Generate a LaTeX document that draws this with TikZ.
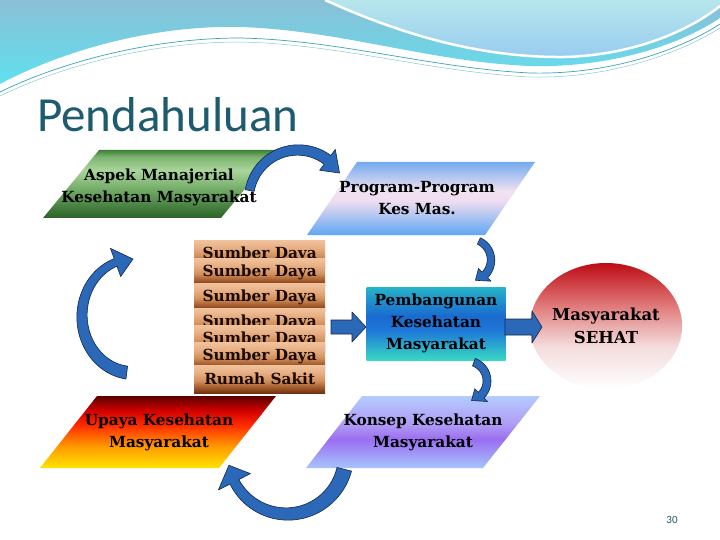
\documentclass[tikz,border=0pt]{standalone}
\usepackage{fontspec}
\setmainfont{DejaVu Serif}
\newfontfamily\titlefont{Carlito}
\usetikzlibrary{shapes.geometric}
\definecolor{titlec}{HTML}{1D5B6E}
\definecolor{hdtop}{HTML}{8BBFD6}
\definecolor{hdbot}{HTML}{5FE0EE}
\definecolor{lenstop}{HTML}{B6E6EC}
\definecolor{lensbot}{HTML}{98CCF0}
\definecolor{hdline}{HTML}{3AA5B5}
\definecolor{arrblue}{HTML}{2B68B8}
\definecolor{arrline}{HTML}{14284A}
\definecolor{sdtext}{HTML}{1A0A00}
% aspek (green)
\definecolor{ga}{HTML}{2A6228}\definecolor{gb}{HTML}{6EA862}\definecolor{gc}{HTML}{AAD59C}\definecolor{gd}{HTML}{7CB46E}\definecolor{ge}{HTML}{3E8038}
\pgfdeclareverticalshading{aspsh}{100bp}{color(0bp)=(ga); color(25bp)=(ga); color(45bp)=(gb); color(60bp)=(gc); color(70bp)=(gd); color(75bp)=(ge); color(100bp)=(ge)}
% program (blue-pink)
\definecolor{pa}{HTML}{5EA6F4}\definecolor{pb}{HTML}{EEDCF0}\definecolor{pc}{HTML}{F2E2F0}\definecolor{pd}{HTML}{74AAEE}
\pgfdeclareverticalshading{progsh}{100bp}{color(0bp)=(pa); color(25bp)=(pa); color(48bp)=(pb); color(55bp)=(pc); color(75bp)=(pd); color(100bp)=(pd)}
% sumber daya (brown)
\definecolor{sa}{HTML}{6E3010}\definecolor{sb}{HTML}{A0582A}\definecolor{sc}{HTML}{D4925E}\definecolor{sd}{HTML}{E8B086}\definecolor{se}{HTML}{F0C29C}
\pgfdeclareverticalshading{sdsh}{100bp}{color(0bp)=(sa); color(25bp)=(sa); color(35bp)=(sb); color(48bp)=(sc); color(62bp)=(sd); color(75bp)=(se); color(100bp)=(se)}
% pembangunan (teal-blue)
\definecolor{ta}{HTML}{38D8C4}\definecolor{tb}{HTML}{1E78D8}\definecolor{tc}{HTML}{1A6AD0}\definecolor{td}{HTML}{26B4C8}
\pgfdeclareverticalshading{pemsh}{100bp}{color(0bp)=(ta); color(25bp)=(ta); color(45bp)=(tb); color(55bp)=(tc); color(75bp)=(td); color(100bp)=(td)}
% upaya (red-yellow)
\definecolor{ua}{HTML}{FFE400}\definecolor{ub}{HTML}{FF9A00}\definecolor{uc}{HTML}{FF2A00}\definecolor{ud}{HTML}{D00000}\definecolor{ue}{HTML}{5A0000}
\pgfdeclareverticalshading{upsh}{100bp}{color(0bp)=(ua); color(25bp)=(ua); color(40bp)=(ub); color(55bp)=(uc); color(65bp)=(ud); color(75bp)=(ue); color(100bp)=(ue)}
% konsep (blue-purple)
\definecolor{ka}{HTML}{A6C4FC}\definecolor{kb}{HTML}{9A6EF0}\definecolor{kc}{HTML}{B09AF4}\definecolor{kd}{HTML}{B4CCFF}
\pgfdeclareverticalshading{konsh}{100bp}{color(0bp)=(ka); color(25bp)=(ka); color(45bp)=(kb); color(55bp)=(kc); color(75bp)=(kd); color(100bp)=(kd)}
% circle (red-white)
\definecolor{ca}{HTML}{FFFFFF}\definecolor{cb}{HTML}{F4DCDC}\definecolor{cc}{HTML}{E07A7A}\definecolor{cd}{HTML}{BC0C14}
\pgfdeclareverticalshading{cirsh}{100bp}{color(0bp)=(ca); color(25bp)=(ca); color(42bp)=(cb); color(58bp)=(cc); color(75bp)=(cd); color(100bp)=(cd)}
\tikzset{
  carr/.style={fill=arrblue, draw=arrline, line width=0.6pt, line join=round},
  lbl/.style={font=\bfseries\fontsize{15.3}{22}\selectfont, align=center, text=black, inner sep=0pt},
  sdbox/.style={shading=sdsh, minimum width=131pt, minimum height=28pt, inner sep=0pt,
     anchor=north west, font=\bfseries\fontsize{15.3}{16}\selectfont, text=sdtext},
}
% #1 centre, #2 rx, #3 ry, #4 start angle, #5 end angle, #6 tail width, #7 width near head, #8 head half width, #9 head angle
\newcommand{\carrow}[9]{%
  \begin{scope}[shift={(#1)}]
    \filldraw[carr]
      plot[domain=#4:#5, samples=40, variable=\t]
        (\t:{#2+(#6+(#7-#6)*(\t-(#4))/((#5)-(#4)))/2} and {#3+(#6+(#7-#6)*(\t-(#4))/((#5)-(#4)))/2})
      -- (#5:{#2+#8} and {#3+#8})
      -- ({#5+#9}:#2 and #3)
      -- (#5:{#2-#8} and {#3-#8})
      -- plot[domain=#5:#4, samples=40, variable=\t]
        (\t:{#2-(#6+(#7-#6)*(\t-(#4))/((#5)-(#4)))/2} and {#3-(#6+(#7-#6)*(\t-(#4))/((#5)-(#4)))/2})
      -- cycle;
  \end{scope}}
\begin{document}
\begin{tikzpicture}[x=1pt, y=-1pt]
\useasboundingbox (0,0) rectangle (720,540);
\fill[white] (0,0) rectangle (720,540);
% header
\shade[top color=hdtop, bottom color=hdbot]
  (0,0) -- (720,0) -- (720,18) .. controls (680,45) and (610,68) .. (530,66)
  .. controls (430,62) and (340,30) .. (240,27) .. controls (150,25) and (60,52) .. (0,84) -- cycle;
\shade[top color=lenstop, bottom color=lensbot]
  (325,0) .. controls (400,34) and (480,58) .. (565,57) .. controls (635,55) and (690,30) .. (720,6) -- (720,0) -- cycle;
\draw[white, line width=2.5pt]
  (325,0) .. controls (400,34) and (480,58) .. (565,57) .. controls (635,55) and (690,30) .. (720,6);
\draw[hdline, line width=0.7pt]
  (0,92) .. controls (70,58) and (160,38) .. (240,38) .. controls (340,40) and (430,68) .. (530,73)
  .. controls (610,75) and (680,50) .. (720,24);
\draw[hdline!60, line width=0.5pt]
  (0,96) .. controls (70,62) and (160,42) .. (240,42) .. controls (340,44) and (430,72) .. (530,77)
  .. controls (610,79) and (680,53) .. (720,28);
% title
\node[anchor=base west, inner sep=0pt, font=\titlefont\fontsize{49}{49}\selectfont, text=titlec]
  (title) at (37,132) {Pendahuluan};
% parallelograms
\path[shading=aspsh] (99,150) -- (277,150) -- (221,218) -- (43,218) -- cycle;
\path[shading=progsh] (357,162) -- (535,162) -- (485,235) -- (307,235) -- cycle;
\path[shading=upsh] (97,396) -- (276,396) -- (219,468) -- (40,468) -- cycle;
\path[shading=konsh] (362,396) -- (540,396) -- (483,468) -- (306,468) -- cycle;
% sumber daya stack
\node[sdbox] (sd1) at (194,240) {Sumber Daya};
\node[sdbox] (sd2) at (194,258) {Sumber Daya};
\node[sdbox] (sd3) at (194,283) {Sumber Daya};
\node[sdbox] (sd4) at (194,308) {Sumber Daya};
\node[sdbox] (sd5) at (194,325) {Sumber Daya};
\node[sdbox] (sd6) at (194,342) {Sumber Daya};
\node[sdbox] (rs) at (194,365) {Rumah Sakit};
% pembangunan
\node[rectangle, shading=pemsh, minimum width=139pt, minimum height=73pt, lbl] (pemb) at (436,323.5)
  {Pembangunan\\Kesehatan\\Masyarakat};
% masyarakat sehat
\node[ellipse, shading=cirsh, minimum width=143pt, minimum height=126pt, inner sep=0pt, align=center,
  font=\bfseries\fontsize{16.5}{23}\selectfont] (sehat) at (606,326) {Masyarakat\\SEHAT};
% straight block arrows
\filldraw[carr] (331,320) -- (352,320) -- (352,312) -- (366,327) -- (352,342) -- (352,334) -- (331,334) -- cycle;
\filldraw[carr] (505,319) -- (532,319) -- (532,311) -- (542,327) -- (532,343) -- (532,335) -- (505,335) -- cycle;
% curved arrows
\carrow{298,199}{49}{49}{190}{307}{9}{11}{13}{21}
\carrow{470,260}{21}{21}{-65}{45}{7}{8}{9}{30}
\carrow{467,381}{20}{20}{-70}{45}{8}{8}{9}{32}
\carrow{287,455}{59}{59}{14}{153}{15}{10}{18}{17}
\carrow{133,316}{51}{57}{97}{250}{13}{8}{15}{20}
% labels
\node[lbl] (aspek) at (159,187) {Aspek Manajerial\\Kesehatan Masyarakat};
\node[lbl] (prog) at (417,198) {Program-Program\\Kes Mas.};
\node[lbl] (upaya) at (159,432) {Upaya Kesehatan\\Masyarakat};
\node[lbl] (konsep) at (423,432) {Konsep Kesehatan\\Masyarakat};
\node[font=\titlefont\fontsize{11}{11}\selectfont, text=titlec, inner sep=0pt] (pg) at (672,520) {30};
\end{tikzpicture}
\end{document}
